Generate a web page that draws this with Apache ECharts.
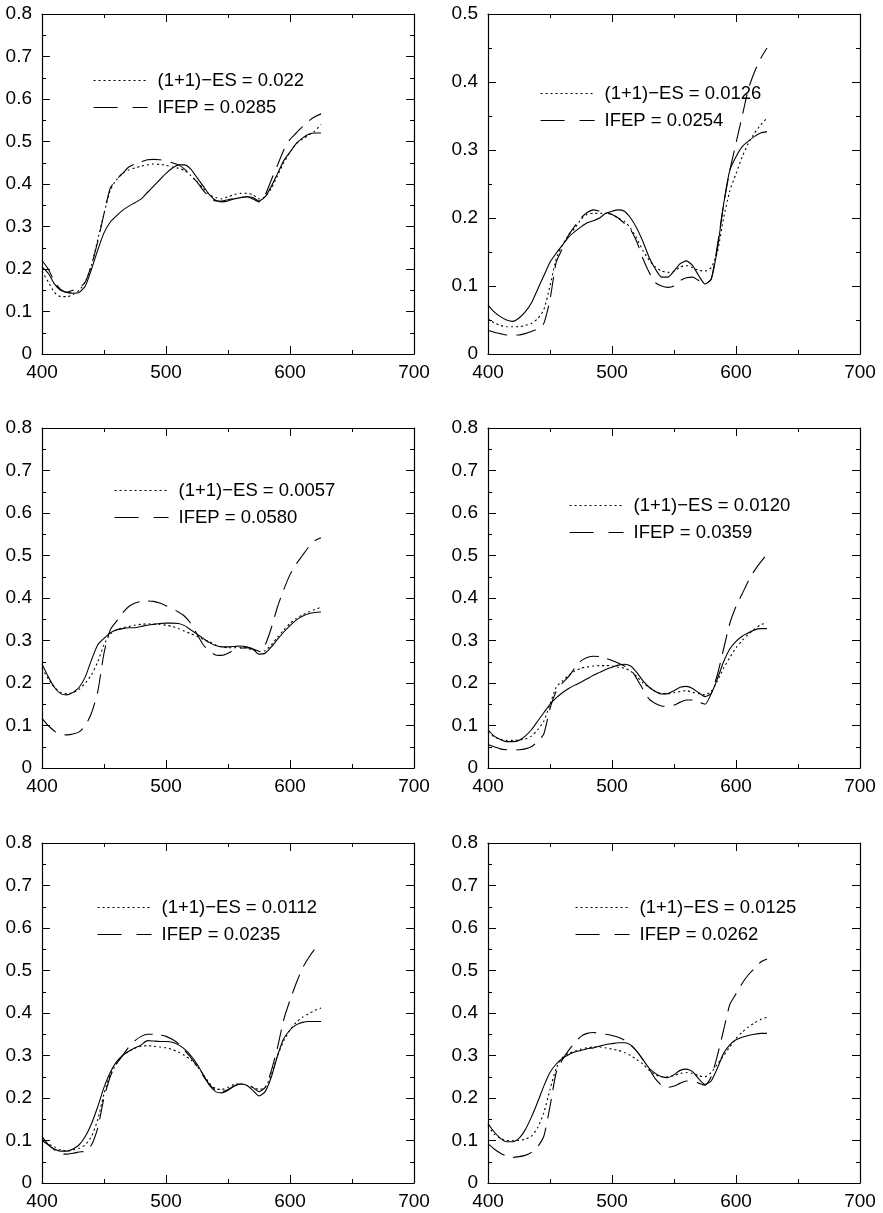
<!DOCTYPE html>
<html><head><meta charset="utf-8">
<script src="https://cdn.jsdelivr.net/npm/echarts@6/dist/echarts.min.js"></script>
<style>html,body{margin:0;padding:0;background:#fff}#c{width:883px;height:1213px}</style>
</head><body><div id="c"></div>
<script>
const wavelengths = [400,405,410,415,420,425,430,435,440,445,450,455,460,465,470,475,480,485,490,495,500,505,510,515,520,525,530,535,540,545,550,555,560,565,570,575,580,585,590,595,600,605,610,615,620,625];

const p1Target = [0.205,0.19,0.165,0.15,0.145,0.143,0.145,0.16,0.2,0.245,0.285,0.31,0.325,0.338,0.348,0.356,0.365,0.38,0.395,0.41,0.425,0.437,0.445,0.445,0.435,0.415,0.395,0.375,0.362,0.358,0.36,0.365,0.368,0.37,0.368,0.36,0.37,0.395,0.425,0.455,0.475,0.495,0.508,0.517,0.52,0.52];
const p1ES = [0.195,0.17,0.145,0.135,0.135,0.14,0.15,0.17,0.21,0.27,0.33,0.385,0.41,0.425,0.433,0.438,0.442,0.445,0.447,0.446,0.444,0.44,0.437,0.432,0.42,0.405,0.39,0.375,0.368,0.365,0.37,0.375,0.378,0.378,0.375,0.365,0.37,0.39,0.42,0.45,0.475,0.495,0.505,0.515,0.525,0.54];
const p1IFEP = [0.22,0.2,0.17,0.152,0.145,0.15,0.155,0.17,0.21,0.265,0.33,0.39,0.41,0.425,0.44,0.447,0.452,0.457,0.458,0.457,0.455,0.45,0.445,0.435,0.42,0.405,0.385,0.37,0.36,0.36,0.363,0.366,0.368,0.37,0.365,0.358,0.375,0.41,0.445,0.48,0.505,0.52,0.535,0.548,0.558,0.565];

const p2Target = [0.072,0.062,0.055,0.05,0.048,0.053,0.062,0.075,0.095,0.115,0.135,0.148,0.16,0.172,0.18,0.187,0.193,0.196,0.2,0.207,0.21,0.212,0.21,0.2,0.185,0.165,0.142,0.125,0.113,0.113,0.122,0.133,0.137,0.13,0.115,0.103,0.11,0.155,0.22,0.27,0.29,0.305,0.313,0.32,0.325,0.327];
const p2ES = [0.052,0.046,0.042,0.04,0.04,0.04,0.042,0.045,0.052,0.065,0.1,0.14,0.16,0.175,0.185,0.198,0.205,0.207,0.207,0.207,0.205,0.2,0.195,0.185,0.17,0.152,0.138,0.128,0.122,0.12,0.122,0.128,0.13,0.127,0.123,0.122,0.127,0.15,0.2,0.24,0.265,0.29,0.31,0.325,0.337,0.347];
const p2IFEP = [0.035,0.032,0.03,0.028,0.028,0.028,0.03,0.033,0.037,0.045,0.08,0.135,0.155,0.175,0.188,0.2,0.208,0.212,0.21,0.208,0.205,0.2,0.192,0.183,0.165,0.14,0.12,0.105,0.1,0.098,0.1,0.108,0.112,0.113,0.108,0.103,0.11,0.16,0.22,0.27,0.31,0.35,0.39,0.415,0.435,0.45];

const p3Target = [0.245,0.215,0.19,0.175,0.172,0.178,0.19,0.215,0.255,0.29,0.305,0.318,0.325,0.328,0.33,0.33,0.333,0.336,0.338,0.34,0.341,0.341,0.34,0.335,0.325,0.315,0.305,0.295,0.288,0.285,0.285,0.286,0.287,0.285,0.28,0.268,0.27,0.285,0.303,0.32,0.335,0.348,0.357,0.363,0.366,0.367];
const p3ES = [0.235,0.21,0.19,0.178,0.175,0.177,0.185,0.2,0.22,0.25,0.29,0.315,0.325,0.33,0.333,0.336,0.338,0.339,0.339,0.338,0.336,0.333,0.328,0.322,0.316,0.31,0.303,0.297,0.29,0.285,0.283,0.283,0.284,0.282,0.278,0.274,0.276,0.29,0.308,0.325,0.34,0.352,0.36,0.367,0.373,0.378];
const p3IFEP = [0.117,0.1,0.087,0.078,0.078,0.08,0.085,0.1,0.13,0.18,0.27,0.325,0.345,0.365,0.38,0.388,0.392,0.393,0.392,0.388,0.382,0.375,0.367,0.357,0.34,0.315,0.29,0.275,0.266,0.265,0.27,0.278,0.282,0.283,0.28,0.275,0.29,0.33,0.38,0.42,0.455,0.48,0.5,0.52,0.535,0.542];

const p4Target = [0.09,0.075,0.067,0.062,0.062,0.065,0.075,0.09,0.11,0.13,0.15,0.165,0.177,0.187,0.195,0.202,0.21,0.218,0.225,0.232,0.237,0.242,0.244,0.24,0.225,0.205,0.19,0.18,0.174,0.175,0.182,0.19,0.192,0.187,0.177,0.168,0.175,0.21,0.25,0.28,0.298,0.31,0.318,0.325,0.328,0.328];
const p4ES = [0.085,0.073,0.068,0.065,0.065,0.066,0.068,0.075,0.09,0.11,0.15,0.19,0.205,0.218,0.228,0.235,0.238,0.24,0.241,0.241,0.24,0.237,0.235,0.228,0.215,0.2,0.19,0.18,0.175,0.175,0.177,0.18,0.182,0.178,0.175,0.172,0.18,0.205,0.235,0.26,0.283,0.3,0.315,0.327,0.337,0.342];
const p4IFEP = [0.055,0.05,0.045,0.043,0.042,0.043,0.045,0.05,0.062,0.08,0.14,0.18,0.2,0.215,0.235,0.252,0.26,0.263,0.262,0.258,0.253,0.247,0.24,0.232,0.21,0.185,0.162,0.152,0.146,0.145,0.148,0.155,0.16,0.16,0.155,0.15,0.175,0.22,0.28,0.34,0.38,0.41,0.44,0.465,0.485,0.503];

const p5Target = [0.1,0.09,0.08,0.075,0.075,0.08,0.09,0.11,0.14,0.18,0.225,0.26,0.285,0.3,0.31,0.318,0.325,0.335,0.334,0.333,0.333,0.331,0.325,0.315,0.3,0.28,0.255,0.23,0.215,0.212,0.218,0.228,0.233,0.23,0.218,0.205,0.215,0.25,0.3,0.34,0.36,0.372,0.378,0.38,0.38,0.38];
const p5ES = [0.105,0.092,0.085,0.078,0.075,0.078,0.082,0.09,0.11,0.15,0.21,0.255,0.28,0.3,0.31,0.317,0.322,0.323,0.322,0.32,0.318,0.314,0.308,0.3,0.29,0.275,0.255,0.235,0.222,0.22,0.225,0.232,0.233,0.23,0.225,0.22,0.225,0.255,0.3,0.335,0.36,0.378,0.39,0.398,0.406,0.412];
const p5IFEP = [0.11,0.09,0.078,0.068,0.068,0.07,0.073,0.075,0.09,0.13,0.2,0.25,0.28,0.3,0.32,0.335,0.345,0.35,0.35,0.348,0.345,0.338,0.328,0.312,0.295,0.275,0.252,0.232,0.218,0.215,0.22,0.228,0.233,0.232,0.225,0.215,0.225,0.265,0.32,0.385,0.43,0.47,0.505,0.53,0.55,0.563];

const p6Target = [0.14,0.12,0.105,0.097,0.097,0.105,0.125,0.155,0.19,0.228,0.26,0.28,0.293,0.302,0.308,0.312,0.316,0.318,0.322,0.326,0.328,0.33,0.33,0.325,0.31,0.29,0.27,0.258,0.25,0.248,0.255,0.265,0.268,0.262,0.245,0.232,0.24,0.27,0.305,0.325,0.337,0.343,0.347,0.35,0.352,0.352];
const p6ES = [0.135,0.115,0.105,0.1,0.1,0.1,0.103,0.11,0.13,0.165,0.22,0.27,0.295,0.305,0.31,0.315,0.318,0.32,0.32,0.318,0.315,0.312,0.307,0.3,0.29,0.28,0.265,0.255,0.25,0.25,0.253,0.258,0.26,0.258,0.252,0.25,0.26,0.28,0.3,0.32,0.34,0.355,0.367,0.377,0.385,0.39];
const p6IFEP = [0.092,0.08,0.07,0.063,0.06,0.062,0.065,0.072,0.085,0.11,0.18,0.26,0.29,0.312,0.33,0.345,0.352,0.354,0.352,0.35,0.347,0.343,0.336,0.325,0.31,0.29,0.268,0.245,0.23,0.225,0.228,0.235,0.24,0.24,0.235,0.23,0.25,0.3,0.36,0.42,0.445,0.47,0.49,0.505,0.52,0.527];

const esLabels = ["(1+1)\u2212ES = 0.022","(1+1)\u2212ES = 0.0126","(1+1)\u2212ES = 0.0057","(1+1)\u2212ES = 0.0120","(1+1)\u2212ES = 0.0112","(1+1)\u2212ES = 0.0125"];
const ifepLabels = ["IFEP = 0.0285","IFEP = 0.0254","IFEP = 0.0580","IFEP = 0.0359","IFEP = 0.0235","IFEP = 0.0262"];
const yMaxes = [0.8,0.5,0.8,0.8,0.8,0.8];
const xTicks = [400,500,600,700];

const panels = [
  {t:p1Target,e:p1ES,f:p1IFEP},{t:p2Target,e:p2ES,f:p2IFEP},
  {t:p3Target,e:p3ES,f:p3IFEP},{t:p4Target,e:p4ES,f:p4IFEP},
  {t:p5Target,e:p5ES,f:p5IFEP},{t:p6Target,e:p6ES,f:p6IFEP}
];
const layout = [
  {l:42,t:14,lx:93,ly:71},{l:488,t:14,lx:540,ly:84},
  {l:42,t:428,lx:114,ly:481},{l:488,t:428,lx:569,ly:496},
  {l:42,t:843,lx:97,ly:898},{l:488,t:843,lx:575,ly:898}
];
const FONT = 'Liberation Sans, Arial, Helvetica, sans-serif';
const W = 372, H = 340;
const zip = a => a.map((v,i)=>[wavelengths[i], v]);

const grid=[], xAxis=[], yAxis=[], series=[], legend=[];
panels.forEach((p,i)=>{
  const L = layout[i];
  grid.push({left:L.l, top:L.t, width:W, height:H, show:false});
  const xBase = {gridIndex:i, type:'value', min:400, max:700, interval:100,
    axisLine:{show:true,onZero:false,lineStyle:{color:'#000',width:1.2}},
    axisTick:{show:true,inside:true,length:8,lineStyle:{color:'#000',width:1}},
    minorTick:{show:true,splitNumber:2,length:4,lineStyle:{color:'#000',width:1}},
    splitLine:{show:false}};
  xAxis.push(Object.assign({}, xBase, {position:'bottom',
    axisLabel:{show:true,color:'#000',fontFamily:FONT,fontSize:19,margin:9,
      formatter:v=>xTicks.includes(v)?String(v):''}}));
  xAxis.push(Object.assign({}, xBase, {position:'top', axisLabel:{show:false}}));
  const yBase = {gridIndex:i, type:'value', min:0, max:yMaxes[i], interval:0.1,
    axisLine:{show:true,onZero:false,lineStyle:{color:'#000',width:1.2}},
    axisTick:{show:true,inside:true,length:8,lineStyle:{color:'#000',width:1}},
    minorTick:{show:true,splitNumber:2,length:4,lineStyle:{color:'#000',width:1}},
    splitLine:{show:false}};
  yAxis.push(Object.assign({}, yBase, {position:'left',
    axisLabel:{show:true,color:'#000',fontFamily:FONT,fontSize:19,margin:10,
      formatter:v=>String(Math.round(v*10)/10)}}));
  yAxis.push(Object.assign({}, yBase, {position:'right', axisLabel:{show:false}}));
  const common = {type:'line', xAxisIndex:2*i, yAxisIndex:2*i, symbol:'none', showSymbol:false,
    smooth:0.2, silent:true, animation:false};
  series.push(Object.assign({}, common, {name:'target'+(i+1), data:zip(p.t),
    lineStyle:{color:'#000',width:1.1,type:'solid'}, itemStyle:{color:'#000'}}));
  series.push(Object.assign({}, common, {name:esLabels[i], data:zip(p.e),
    lineStyle:{color:'#000',width:1.1,type:[2,3]}, itemStyle:{color:'#000'}}));
  series.push(Object.assign({}, common, {name:ifepLabels[i], data:zip(p.f),
    lineStyle:{color:'#000',width:1.1,type:[20,9]}, itemStyle:{color:'#000'}}));
  legend.push({
    data:[
      {name:esLabels[i], itemStyle:{opacity:0}, lineStyle:{color:'#000',width:1.1,type:[2,3]}},
      {name:ifepLabels[i], itemStyle:{opacity:0}, lineStyle:{color:'#000',width:1.1,type:[24,15]}}
    ],
    orient:'vertical', left:L.lx, top:L.ly,
    itemWidth:54, itemHeight:14, itemGap:8, selectedMode:false, padding:0,
    itemStyle:{opacity:0},
    textStyle:{color:'#000',fontFamily:FONT,fontSize:18.5,padding:[0,0,0,5]}});
});

const chart = echarts.init(document.getElementById('c'), null, {renderer:'canvas'});
chart.setOption({animation:false, backgroundColor:'#fff', grid, xAxis, yAxis, series, legend});
</script>
</body></html>
